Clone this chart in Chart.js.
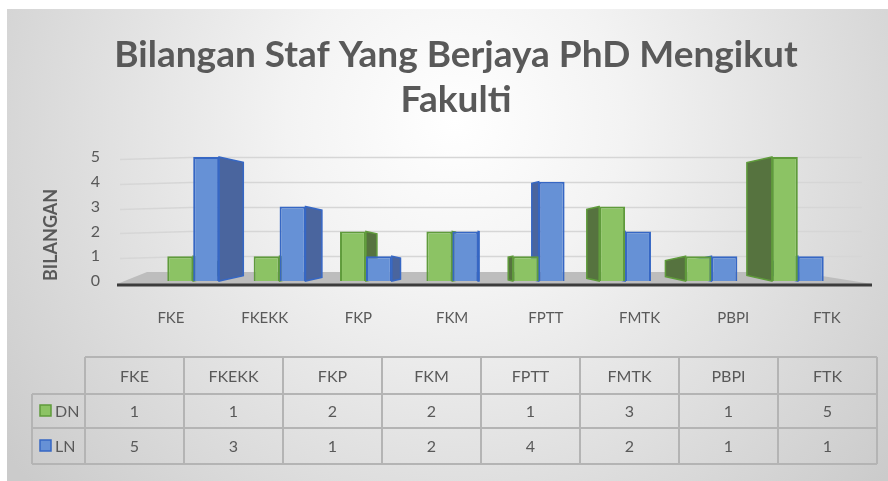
<!DOCTYPE html>
<html>
<head>
<meta charset="utf-8">
<script src="https://cdn.jsdelivr.net/npm/chart.js@4.4.1/dist/chart.umd.min.js"></script>
<style>
  html, body { margin: 0; padding: 0; background: #ffffff; }
  #wrap { position: relative; width: 888px; height: 481px; }
</style>
</head>
<body>
<div id="wrap"><canvas id="fakulti-chart"></canvas></div>
<script>
// Faculties and counts of staff who completed a PhD
var fakulti = ['FKE', 'FKEKK', 'FKP', 'FKM', 'FPTT', 'FMTK', 'PBPI', 'FTK'];
var dnValues = [1, 1, 2, 2, 1, 3, 1, 5];
var lnValues = [5, 3, 1, 2, 4, 2, 1, 1];
var seriesNames = ['DN', 'LN'];
var yTicks = [0, 1, 2, 3, 4, 5];
var titleLines = ['Bilangan Staf Yang Berjaya PhD Mengikut', 'Fakulti'];

var FONT = 'Lato, "Liberation Sans", sans-serif';
var TEXT = '#595959';
var VANISH_X = 455;

var colours = {
    DN: { front: '#8cc364', border: '#5f9b3b', side: '#56733f' },
    LN: { front: '#6691d6', border: '#3667c4', side: '#4a659e' }
};

// gradient panel behind everything, plus the two-line heading
var panelBackground = {
    id: 'panelBackground',
    beforeDraw: function (chart) {
        var ctx = chart.ctx;
        ctx.save();
        ctx.fillStyle = '#ffffff';
        ctx.fillRect(0, 0, chart.width, chart.height);
        var g = ctx.createRadialGradient(455, 120, 0, 455, 120, 560);
        g.addColorStop(0, '#ffffff');
        g.addColorStop(0.3, '#f3f3f3');
        g.addColorStop(1, '#cbcbcb');
        ctx.fillStyle = g;
        ctx.fillRect(7, 9, chart.width - 7, chart.height - 9);

        ctx.fillStyle = TEXT;
        ctx.font = 'bold 37px ' + FONT;
        ctx.textAlign = 'center';
        ctx.textBaseline = 'middle';
        titleLines.forEach(function (line, i) {
            ctx.fillText(line, 456, 55 + i * 45);
        });
        ctx.restore();
    }
};

// back-wall grid lines, floor, the dark side faces of the columns,
// and category names spread out along the front edge of the floor
var columnDepth = {
    id: 'columnDepth',
    beforeDatasetsDraw: function (chart) {
        var ctx = chart.ctx;
        var x = chart.scales.x;
        var y = chart.scales.y;
        var base = chart.chartArea.bottom;
        var floorL = 117, floorR = 872;
        ctx.save();

        ctx.strokeStyle = '#d6d6d6';
        ctx.lineWidth = 1.5;
        yTicks.slice(1).forEach(function (v) {
            var py = Math.round(y.getPixelForValue(v)) + 0.5;
            ctx.beginPath();
            ctx.moveTo(120, py + 2);
            ctx.lineTo(190, py);
            ctx.lineTo(862, py);
            ctx.stroke();
        });

        ctx.fillStyle = '#bdbdbd';
        ctx.beginPath();
        ctx.moveTo(floorL, base + 3);
        ctx.lineTo(floorL + 30, base - 9);
        ctx.lineTo(floorR - 75, base - 9);
        ctx.lineTo(floorR, base + 3);
        ctx.closePath();
        ctx.fill();

        ctx.strokeStyle = '#3c3c3c';
        ctx.lineWidth = 3;
        ctx.beginPath();
        ctx.moveTo(floorL, base + 4);
        ctx.lineTo(floorR, base + 4);
        ctx.stroke();

        ctx.fillStyle = TEXT;
        ctx.font = '15px ' + FONT;
        ctx.textAlign = 'center';
        ctx.textBaseline = 'middle';
        fakulti.forEach(function (name, i) {
            var px = x.getPixelForValue(i);
            ctx.fillText(name, px + (px - VANISH_X) * 0.085, base + 37);
        });

        chart.data.datasets.forEach(function (ds, di) {
            var c = colours[ds.label];
            chart.getDatasetMeta(di).data.forEach(function (bar) {
                var half = bar.width / 2;
                var dx = (VANISH_X + 20 - bar.x) * 0.09;
                dx = Math.max(-25, Math.min(25, dx));
                var edge = dx > 0 ? bar.x + half : bar.x - half;
                var s = Math.abs(dx) * 0.22;
                ctx.fillStyle = c.side;
                ctx.strokeStyle = c.border;
                ctx.lineWidth = 1.5;
                ctx.beginPath();
                ctx.moveTo(edge, bar.y);
                ctx.lineTo(edge + dx, bar.y + s);
                ctx.lineTo(edge + dx, bar.base - s);
                ctx.lineTo(edge, bar.base);
                ctx.closePath();
                ctx.fill();
                ctx.stroke();
            });
        });
        ctx.restore();
    }
};

// data table under the plot, with the series keys in the first column
var dataTable = {
    id: 'dataTable',
    afterDraw: function (chart) {
        var ctx = chart.ctx;
        var keyLeft = 32, left = 85, right = 877;
        var rows = [357, 394, 428, 464];
        var colW = (right - left) / fakulti.length;
        var series = [dnValues, lnValues];
        ctx.save();
        ctx.strokeStyle = '#b4b4b4';
        ctx.lineWidth = 2;
        ctx.beginPath();
        ctx.moveTo(left, rows[0]); ctx.lineTo(right, rows[0]);
        for (var r = 1; r < rows.length; r++) {
            ctx.moveTo(keyLeft, rows[r]); ctx.lineTo(right, rows[r]);
        }
        ctx.moveTo(keyLeft, rows[1]); ctx.lineTo(keyLeft, rows[3]);
        for (var i = 0; i <= fakulti.length; i++) {
            var x = left + i * colW;
            ctx.moveTo(x, rows[0]); ctx.lineTo(x, rows[3]);
        }
        ctx.stroke();

        ctx.fillStyle = TEXT;
        ctx.font = '16px ' + FONT;
        ctx.textAlign = 'center';
        ctx.textBaseline = 'middle';
        fakulti.forEach(function (name, i) {
            var cx = left + (i + 0.5) * colW;
            ctx.fillText(name, cx, (rows[0] + rows[1]) / 2 + 1);
            series.forEach(function (vals, si) {
                ctx.fillText(String(vals[i]), cx, (rows[si + 1] + rows[si + 2]) / 2 + 1);
            });
        });

        seriesNames.forEach(function (name, si) {
            var cy = (rows[si + 1] + rows[si + 2]) / 2;
            var c = colours[name];
            ctx.fillStyle = c.front;
            ctx.strokeStyle = c.border;
            ctx.lineWidth = 1.5;
            ctx.fillRect(40, cy - 6, 11, 11);
            ctx.strokeRect(40, cy - 6, 11, 11);
            ctx.fillStyle = TEXT;
            ctx.textAlign = 'left';
            ctx.fillText(name, 55, cy + 1);
        });
        ctx.restore();
    }
};

new Chart(document.getElementById('fakulti-chart'), {
    type: 'bar',
    data: {
        labels: fakulti,
        datasets: [{
            label: seriesNames[0],
            data: dnValues,
            backgroundColor: colours.DN.front,
            borderColor: colours.DN.border,
            borderWidth: 2
        }, {
            label: seriesNames[1],
            data: lnValues,
            backgroundColor: colours.LN.front,
            borderColor: colours.LN.border,
            borderWidth: 2
        }]
    },
    options: {
        responsive: true,
        maintainAspectRatio: false,
        animation: false,
        layout: {
            padding: { left: 0, right: 47, top: 157, bottom: 150 }
        },
        datasets: {
            bar: { categoryPercentage: 0.6, barPercentage: 1.0 }
        },
        scales: {
            x: {
                afterFit: function (scale) { scale.height = 50; },
                grid: { display: false, drawTicks: false },
                border: { display: false },
                ticks: { display: false }
            },
            y: {
                min: yTicks[0],
                max: yTicks[yTicks.length - 1],
                afterFit: function (scale) { scale.width = 150; },
                afterBuildTicks: function (scale) {
                    scale.ticks = yTicks.map(function (v) { return { value: v }; });
                },
                grid: { display: false, drawTicks: false },
                border: { display: false },
                ticks: { color: TEXT, font: { family: FONT, size: 16 }, padding: 50, autoSkip: false },
                title: {
                    display: true,
                    text: 'BILANGAN',
                    align: 'start',
                    color: TEXT,
                    font: { family: FONT, size: 18, weight: 'bold' },
                    padding: { top: 40, bottom: 0 }
                }
            }
        },
        plugins: {
            legend: { display: false },
            tooltip: { enabled: false },
            title: { display: false }
        }
    },
    plugins: [panelBackground, columnDepth, dataTable]
});
</script>
</body>
</html>
